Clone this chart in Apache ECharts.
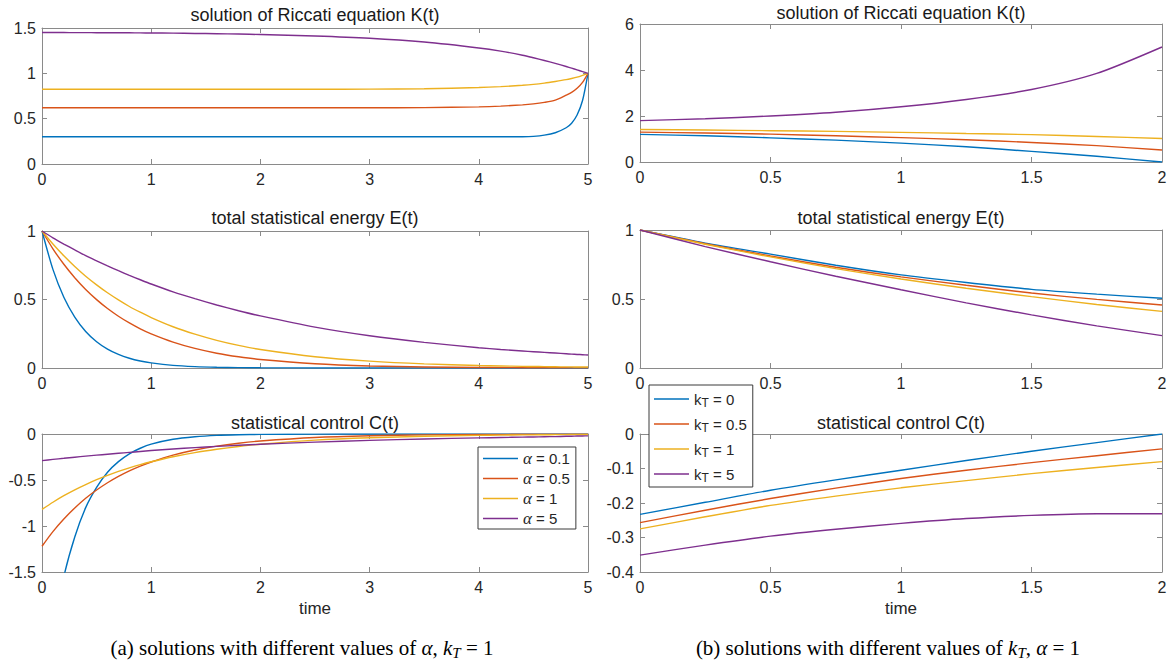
<!DOCTYPE html>
<html><head><meta charset="utf-8">
<script src="https://cdn.jsdelivr.net/npm/echarts@6/dist/echarts.min.js"></script>
<style>html,body{margin:0;padding:0;background:#fff}#c{width:1174px;height:666px}</style>
</head><body><div id="c"></div>
<script>
// ---------- data ----------
const tLeft = [0,0.1,0.2,0.3,0.4,0.5,0.6,0.7,0.8,0.9,1,1.2,1.4,1.6,1.8,2,2.5,3,3.5,4,4.2,4.4,4.5,4.6,4.7,4.8,4.85,4.9,4.95,5];
const alphaNames = ['α = 0.1','α = 0.5','α = 1','α = 5'];

const kAlpha01 = [0.3,0.3,0.3,0.3,0.3,0.3,0.3,0.3,0.3,0.3,0.3,0.3,0.3,0.3,0.3,0.3,0.3,0.3,0.3,0.3,0.3,0.301,0.305,0.318,0.345,0.4,0.45,0.54,0.7,1.0];
const kAlpha05 = [0.62,0.62,0.62,0.62,0.62,0.62,0.62,0.62,0.62,0.62,0.62,0.62,0.62,0.62,0.62,0.62,0.62,0.62,0.622,0.63,0.638,0.652,0.663,0.68,0.705,0.76,0.79,0.835,0.9,1.0];
const kAlpha1  = [0.825,0.825,0.825,0.825,0.825,0.825,0.825,0.825,0.825,0.825,0.825,0.825,0.825,0.825,0.825,0.825,0.825,0.826,0.83,0.843,0.853,0.868,0.878,0.892,0.91,0.93,0.943,0.958,0.978,1.0];
const kAlpha5  = [1.45,1.45,1.45,1.449,1.449,1.448,1.448,1.447,1.447,1.446,1.445,1.443,1.44,1.437,1.433,1.428,1.412,1.387,1.345,1.28,1.245,1.2,1.172,1.142,1.11,1.075,1.057,1.038,1.019,1.0];

const eAlpha01 = [1,0.72,0.517,0.372,0.267,0.192,0.138,0.099,0.071,0.051,0.037,0.019,0.0099,0.005,0.0026,0.0014,0.0003,0.0001,0,0,0,0,0,0,0,0,0,0,0,0];
const eAlpha05 = [1,0.87,0.757,0.659,0.573,0.499,0.434,0.378,0.329,0.286,0.249,0.189,0.143,0.108,0.082,0.062,0.031,0.015,0.0077,0.0038,0.003,0.0022,0.0019,0.0017,0.0015,0.0013,0.0012,0.0011,0.001,0.001];
const eAlpha1  = [1,0.905,0.819,0.741,0.67,0.607,0.549,0.497,0.449,0.407,0.368,0.301,0.247,0.202,0.165,0.135,0.082,0.05,0.03,0.018,0.015,0.012,0.011,0.01,0.009,0.008,0.008,0.007,0.007,0.007];
const eAlpha5  = [1,0.95,0.905,0.862,0.82,0.782,0.745,0.71,0.676,0.644,0.613,0.556,0.506,0.46,0.418,0.38,0.298,0.235,0.187,0.148,0.135,0.124,0.119,0.114,0.109,0.104,0.101,0.099,0.097,0.095];

const cAlpha01 = [-3.0,-2.16,-1.55,-1.12,-0.8,-0.58,-0.415,-0.3,-0.215,-0.155,-0.11,-0.057,-0.03,-0.015,-0.008,-0.004,-0.001,0,0,0,0,0,0,0,0,0,0,0,0,0];
const cAlpha05 = [-1.22,-1.061,-0.924,-0.804,-0.699,-0.609,-0.53,-0.461,-0.401,-0.349,-0.304,-0.23,-0.174,-0.132,-0.1,-0.076,-0.038,-0.019,-0.009,-0.005,-0.004,-0.003,-0.0027,-0.0024,-0.0021,-0.0018,-0.0017,-0.0015,-0.0013,-0.001];
const cAlpha1  = [-0.82,-0.742,-0.671,-0.607,-0.55,-0.497,-0.45,-0.407,-0.368,-0.333,-0.302,-0.247,-0.202,-0.166,-0.136,-0.111,-0.067,-0.041,-0.025,-0.015,-0.012,-0.01,-0.009,-0.008,-0.007,-0.0065,-0.006,-0.006,-0.0055,-0.005];
const cAlpha5  = [-0.289,-0.276,-0.264,-0.252,-0.241,-0.23,-0.22,-0.21,-0.2,-0.19,-0.18,-0.163,-0.148,-0.135,-0.123,-0.112,-0.088,-0.069,-0.054,-0.042,-0.038,-0.034,-0.032,-0.03,-0.028,-0.025,-0.024,-0.022,-0.021,-0.02];

const tRight = [0,0.25,0.5,0.75,1,1.25,1.5,1.75,2];
const kTNames = ['k_T = 0','k_T = 0.5','k_T = 1','k_T = 5'];

const kKt0   = [1.2,1.14,1.05,0.95,0.82,0.66,0.46,0.25,0.0];
const kKt05  = [1.3,1.26,1.21,1.14,1.06,0.97,0.85,0.71,0.52];
const kKt1   = [1.41,1.39,1.36,1.33,1.29,1.24,1.19,1.11,1.02];
const kKt5   = [1.8,1.88,2.0,2.16,2.4,2.72,3.15,3.85,5.0];

const eKt0   = [1,0.905,0.825,0.745,0.675,0.62,0.57,0.535,0.505];
const eKt05  = [1,0.9,0.812,0.73,0.66,0.6,0.543,0.497,0.457];
const eKt1   = [1,0.897,0.805,0.72,0.645,0.578,0.517,0.46,0.41];
const eKt5   = [1,0.88,0.77,0.665,0.567,0.472,0.385,0.305,0.235];

const cKt0   = [-0.233,-0.198,-0.163,-0.133,-0.105,-0.077,-0.05,-0.025,0.0];
const cKt05  = [-0.257,-0.221,-0.187,-0.157,-0.129,-0.105,-0.083,-0.063,-0.043];
const cKt1   = [-0.275,-0.24,-0.207,-0.18,-0.156,-0.135,-0.115,-0.097,-0.08];
const cKt5   = [-0.351,-0.322,-0.296,-0.276,-0.259,-0.245,-0.236,-0.231,-0.231];

const leftXTicks = [0,5,1];
const rightXTicks = [0,2,0.5];
const yTicks = [[0,1.5,0.5],[0,6,2],[0,1,0.5],[0,1,0.5],[-1.5,0,0.5],[-0.4,0,0.1]];

const subplotTitles = ['solution of Riccati equation K(t)','solution of Riccati equation K(t)',
  'total statistical energy E(t)','total statistical energy E(t)',
  'statistical control C(t)','statistical control C(t)'];

// ---------- build ----------
const COLORS = ['#0072BD','#D95319','#EDB120','#7E2F8E'];
const SANS = 'Liberation Sans, Arial, Helvetica, sans-serif';
const SERIF = 'Liberation Serif, Times New Roman, serif';
const TXT = '#262626';
const AX = '#8a8a8a';

const grids = [
  {left:42, top:28, width:546, height:136},
  {left:640, top:24, width:522, height:138},
  {left:42, top:231, width:546, height:137},
  {left:640, top:230, width:522, height:138},
  {left:42, top:434, width:546, height:138},
  {left:640, top:434, width:522, height:138}
];

const xAxes = [], yAxes = [], series = [];
grids.forEach((g, i) => {
  const xt = (i % 2 === 0) ? leftXTicks : rightXTicks;
  const yt = yTicks[i];
  const common = {type:'value', gridIndex:i, splitLine:{show:false},
    axisLine:{show:true, onZero:false, lineStyle:{color:AX, width:1}},
    axisTick:{show:true, inside:true, length:5, lineStyle:{color:AX}}};
  const xb = Object.assign({}, common, {position:'bottom', min:xt[0], max:xt[1], interval:xt[2],
    axisLabel:{show:true, color:TXT, fontFamily:SANS, fontSize:16, margin:7}});
  if (i >= 4) {
    Object.assign(xb, {name:'time', nameLocation:'middle', nameGap:28,
      nameTextStyle:{color:TXT, fontFamily:SANS, fontSize:17}});
  }
  xAxes.push(xb);
  xAxes.push(Object.assign({}, common, {position:'top', min:xt[0], max:xt[1], interval:xt[2], axisLabel:{show:false}}));
  yAxes.push(Object.assign({}, common, {position:'left', min:yt[0], max:yt[1], interval:yt[2],
    axisLabel:{show:true, color:TXT, fontFamily:SANS, fontSize:16, margin:6}}));
  yAxes.push(Object.assign({}, common, {position:'right', min:yt[0], max:yt[1], interval:yt[2], axisLabel:{show:false}}));
});

function addSeries(gi, t, arrs, names) {
  arrs.forEach((arr, k) => {
    series.push({
      type:'line', name:names[k], xAxisIndex:gi*2, yAxisIndex:gi*2,
      data:t.map((x, j) => [x, arr[j]]),
      symbol:'none', smooth:0.25, clip:true,
      lineStyle:{color:COLORS[k], width:1.4}, itemStyle:{color:COLORS[k]},
      animation:false, silent:true
    });
  });
}
addSeries(0, tLeft, [kAlpha01,kAlpha05,kAlpha1,kAlpha5], alphaNames);
addSeries(2, tLeft, [eAlpha01,eAlpha05,eAlpha1,eAlpha5], alphaNames);
addSeries(4, tLeft, [cAlpha01,cAlpha05,cAlpha1,cAlpha5], alphaNames);
addSeries(1, tRight, [kKt0,kKt05,kKt1,kKt5], kTNames);
addSeries(3, tRight, [eKt0,eKt05,eKt1,eKt5], kTNames);
addSeries(5, tRight, [cKt0,cKt05,cKt1,cKt5], kTNames);

const titleY = [15,13,218,218,423,423];
const graphic = grids.map((g, i) => ({
  type:'text', x:g.left + g.width/2, y:titleY[i], z:100,
  style:{text:subplotTitles[i], font:'18px ' + SANS, fill:'#1a1a1a',
    align:'center', verticalAlign:'middle', textAlign:'center', textVerticalAlign:'middle'}
}));
const capRich = {
  i:{fontFamily:SERIF, fontStyle:'italic', fontSize:21, fill:'#000', color:'#000'},
  s:{fontFamily:SERIF, fontStyle:'italic', fontSize:15, fill:'#000', color:'#000', padding:[10,0,0,0], verticalAlign:'bottom'}
};
graphic.push({type:'text', x:302, y:648, z:100,
  style:{text:'(a) solutions with different values of {i|α}, {i|k}{s|T} = 1', rich:capRich,
    font:'21px ' + SERIF, fill:'#000', align:'center', verticalAlign:'middle', textAlign:'center', textVerticalAlign:'middle'}});
graphic.push({type:'text', x:888, y:648, z:100,
  style:{text:'(b) solutions with different values of {i|k}{s|T}, {i|α} = 1', rich:capRich,
    font:'21px ' + SERIF, fill:'#000', align:'center', verticalAlign:'middle', textAlign:'center', textVerticalAlign:'middle'}});

const legendBase = {
  orient:'vertical', icon:'rect', itemWidth:35, itemHeight:1.6,
  backgroundColor:'#fff', borderColor:'#3a3a3a', borderWidth:1, borderRadius:0,
  selectedMode:false, z:50
};
const option = {
  animation:false,
  backgroundColor:'#fff',
  grid:grids.map(g => Object.assign({containLabel:false}, g)),
  xAxis:xAxes, yAxis:yAxes, series:series, graphic:graphic,
  legend:[
    Object.assign({}, legendBase, {
      data:alphaNames, left:478, top:447, padding:[3,6,2,5], itemGap:3,
      formatter:n => n.replace('α', '{a|α}'),
      textStyle:{color:TXT, fontFamily:SANS, fontSize:15, lineHeight:16,
        rich:{a:{fontFamily:SERIF, fontStyle:'italic', fontSize:17, lineHeight:16, color:TXT}}}
    }),
    Object.assign({}, legendBase, {
      data:kTNames, left:649, top:385, padding:[3,6,3,5], itemGap:4,
      formatter:n => 'k{s|T}' + n.slice(3),
      textStyle:{color:TXT, fontFamily:SANS, fontSize:15, lineHeight:20,
        rich:{s:{fontFamily:SANS, fontSize:12, color:TXT, verticalAlign:'bottom', lineHeight:12, padding:[9,0,0,0]}}}
    })
  ]
};
const chart = echarts.init(document.getElementById('c'), null, {renderer:'svg'});
chart.setOption(option);
</script>
</body></html>
